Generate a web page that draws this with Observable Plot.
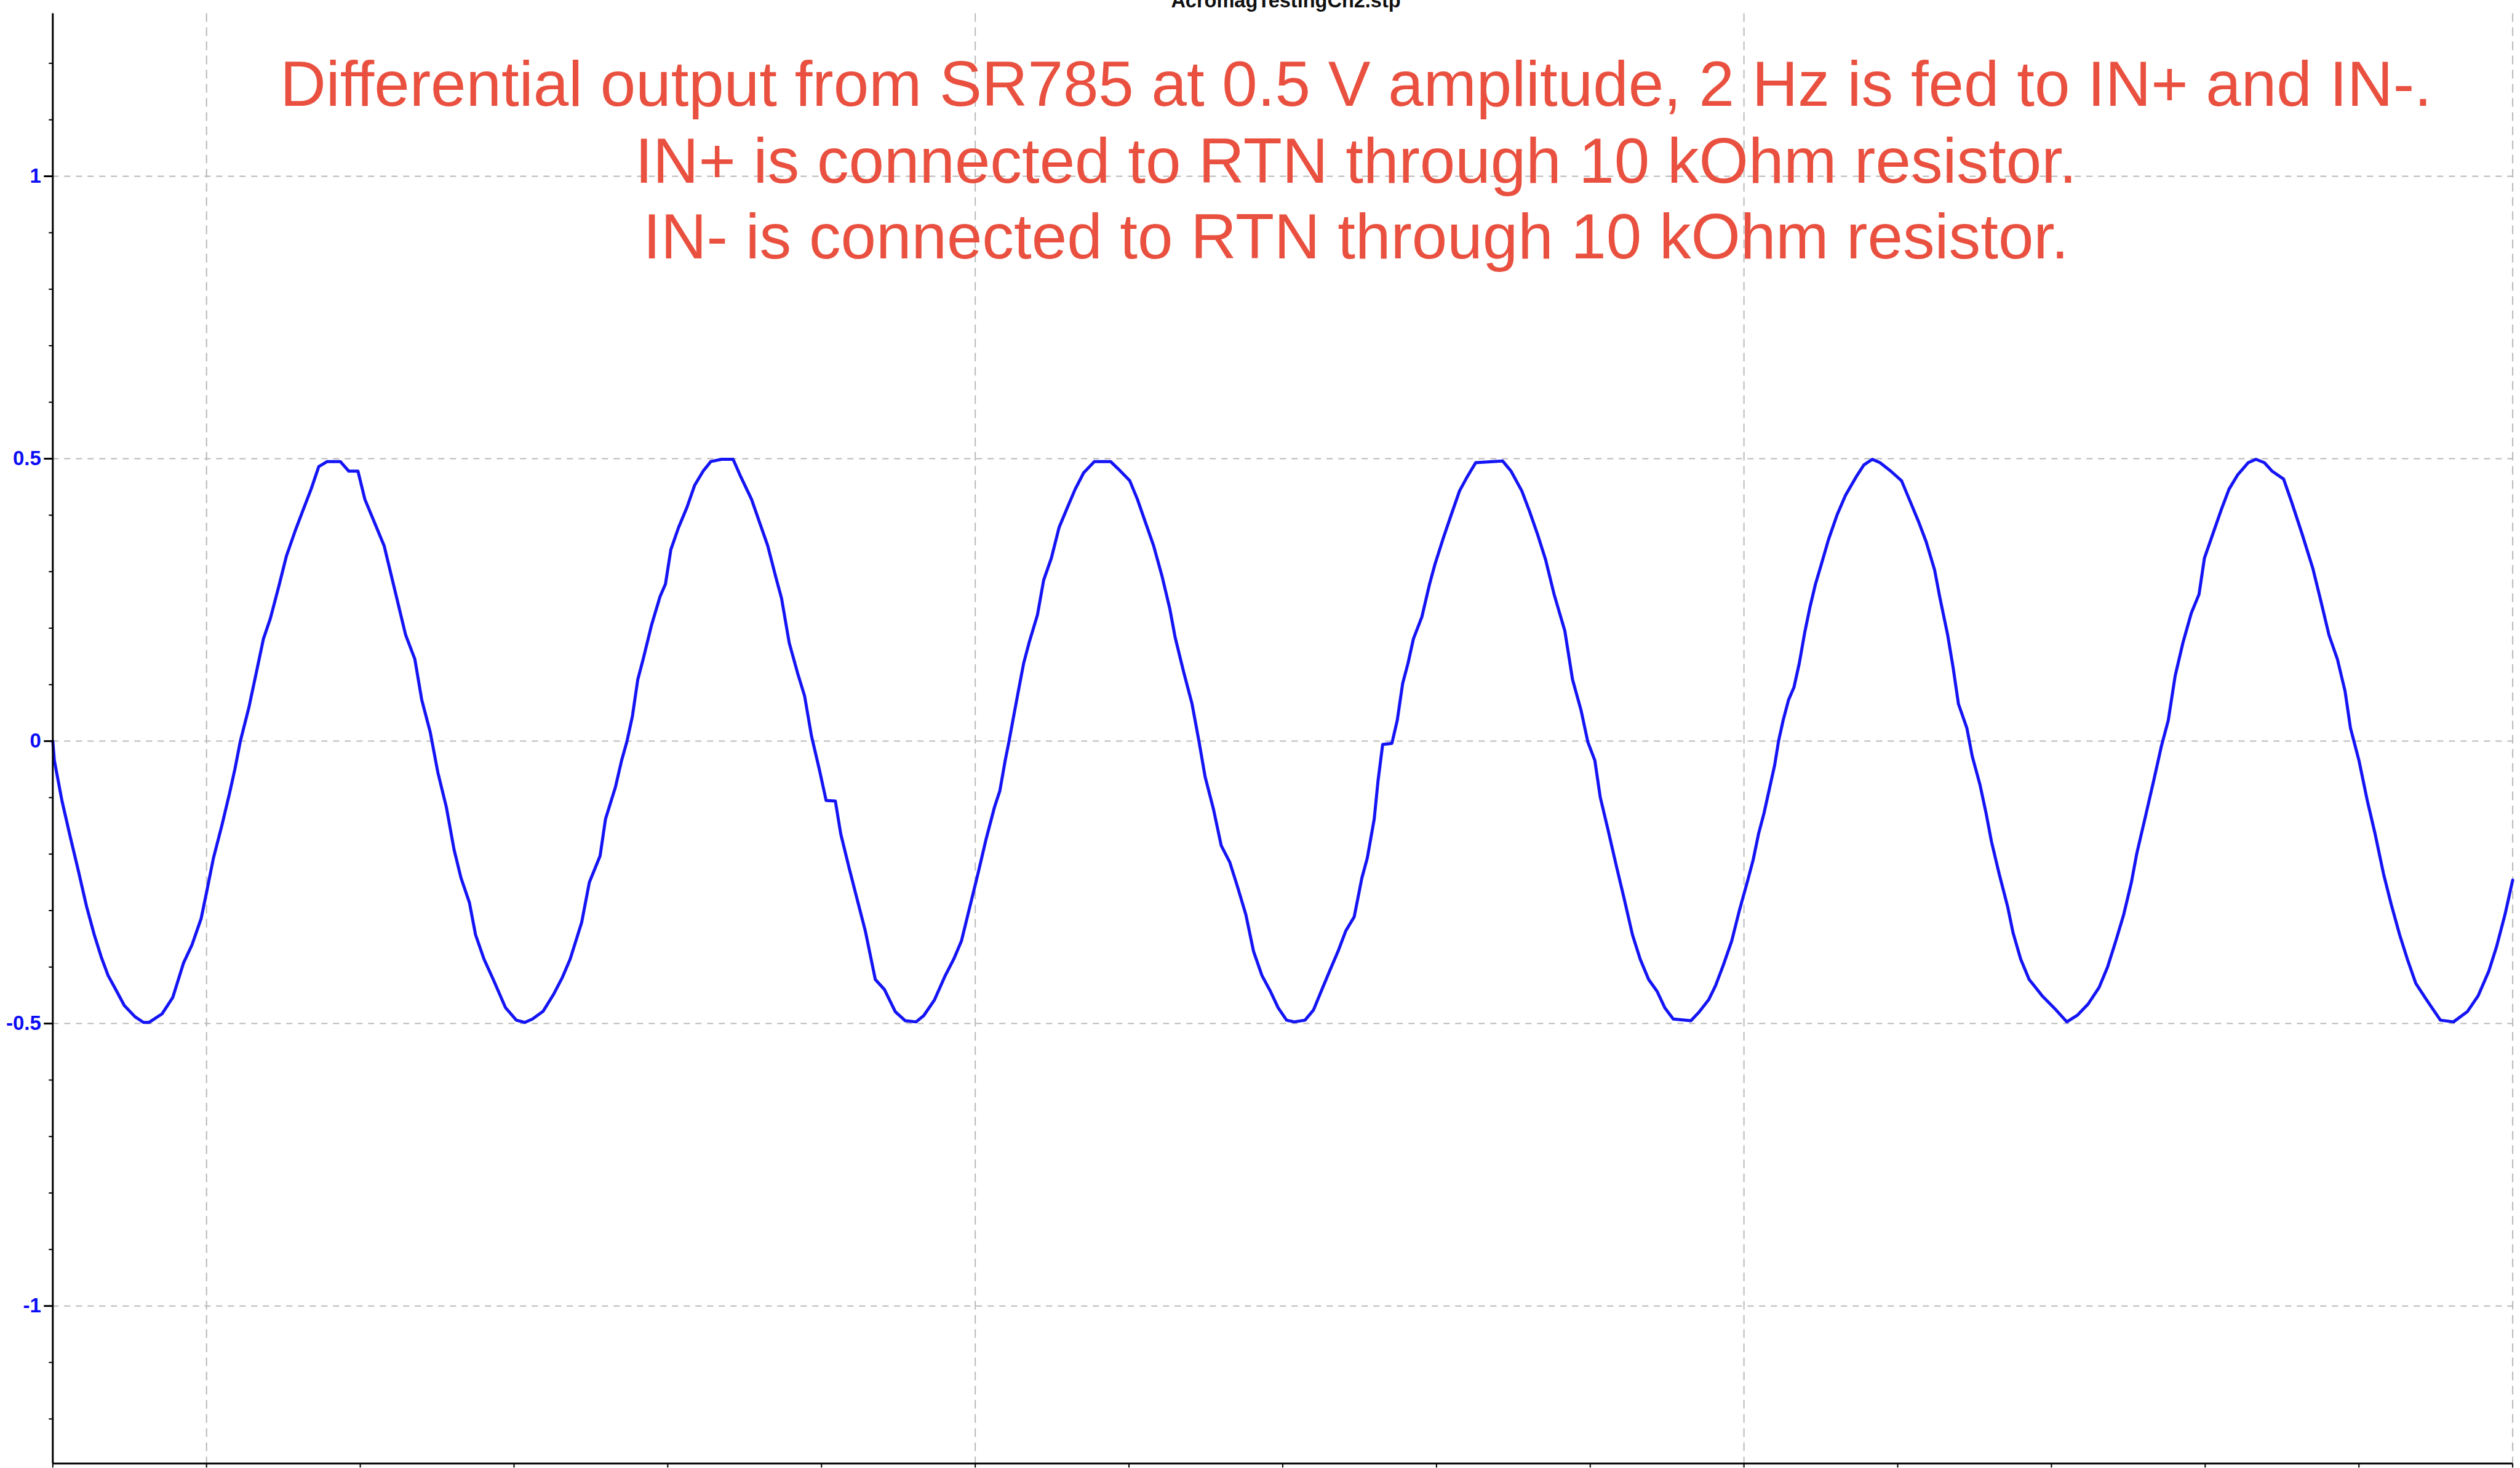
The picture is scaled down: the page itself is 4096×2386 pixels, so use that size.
<!DOCTYPE html>
<html>
<head>
<meta charset="utf-8">
<script src="https://cdn.jsdelivr.net/npm/d3@7"></script>
<script src="https://cdn.jsdelivr.net/npm/@observablehq/plot@0.6"></script>
<style>
  html, body { margin: 0; padding: 0; background: #ffffff; }
  #wrap { position: relative; width: 4096px; height: 2386px; overflow: hidden; background: #ffffff; }
  #chart { position: absolute; left: 0; top: 0; }
  #overlay { position: absolute; left: 0; top: 0; pointer-events: none; }
</style>
</head>
<body>
<div id="wrap">
  <div id="chart"></div>
  <svg id="overlay" width="4096" height="2386"></svg>
</div>
<script>
// ---- Data (time in s, amplitude in V) ----
const cycle0 = [[0,0],[0.002,-0.034],[0.012,-0.106],[0.023,-0.171],[0.033,-0.228],[0.044,-0.293],[0.054,-0.343],[0.063,-0.382],[0.072,-0.415],[0.082,-0.440],[0.093,-0.468],[0.107,-0.488],[0.118,-0.498],[0.125,-0.498],[0.142,-0.483],[0.156,-0.454],[0.170,-0.393],[0.181,-0.361],[0.193,-0.314],[0.200,-0.268],[0.209,-0.207],[0.220,-0.149],[0.230,-0.092],[0.237,-0.049],[0.244,0],[0.255,0.059],[0.265,0.123],[0.274,0.181],[0.283,0.217],[0.294,0.274],[0.304,0.328],[0.315,0.371],[0.325,0.407],[0.336,0.446],[0.346,0.486],[0.357,0.495],[0.374,0.495]];
const cycle1 = [[0.385,0.478],[0.397,0.478],[0.406,0.428],[0.417,0.392],[0.431,0.346],[0.445,0.267],[0.459,0.188],[0.471,0.145],[0.480,0.073],[0.491,0.016],[0.501,-0.056],[0.512,-0.117],[0.522,-0.192],[0.531,-0.242],[0.542,-0.286],[0.550,-0.343],[0.561,-0.386],[0.573,-0.422],[0.589,-0.472],[0.603,-0.494],[0.614,-0.498],[0.624,-0.492],[0.638,-0.478],[0.652,-0.447],[0.663,-0.418],[0.673,-0.386],[0.688,-0.321],[0.698,-0.250],[0.712,-0.203],[0.719,-0.138],[0.732,-0.081],[0.740,-0.034],[0.747,0],[0.754,0.044],[0.761,0.109],[0.768,0.145],[0.779,0.206],[0.790,0.256],[0.797,0.278],[0.804,0.339],[0.814,0.378],[0.825,0.414],[0.835,0.453],[0.846,0.478],[0.856,0.495],[0.870,0.499],[0.885,0.499]];
const cycle2 = [[0.895,0.468],[0.909,0.428],[0.920,0.385],[0.930,0.346],[0.941,0.288],[0.948,0.253],[0.958,0.174],[0.969,0.120],[0.978,0.080],[0.987,0.009],[0.997,-0.049],[1.006,-0.105],[1.018,-0.106],[1.025,-0.164],[1.036,-0.225],[1.046,-0.278],[1.057,-0.336],[1.070,-0.422],[1.082,-0.440],[1.096,-0.479],[1.109,-0.495],[1.123,-0.497],[1.133,-0.486],[1.147,-0.458],[1.161,-0.415],[1.172,-0.386],[1.182,-0.354],[1.193,-0.293],[1.204,-0.232],[1.214,-0.174],[1.225,-0.117],[1.232,-0.088],[1.239,-0.034],[1.244,0],[1.249,0.037],[1.256,0.088],[1.263,0.138],[1.270,0.174],[1.281,0.224],[1.289,0.285],[1.299,0.324],[1.309,0.378],[1.320,0.414],[1.330,0.446],[1.341,0.475],[1.355,0.495],[1.376,0.495]];
const cycle3 = [[1.386,0.482],[1.401,0.461],[1.411,0.428],[1.422,0.385],[1.432,0.346],[1.443,0.292],[1.453,0.235],[1.460,0.184],[1.471,0.123],[1.482,0.066],[1.491,0],[1.499,-0.063],[1.510,-0.121],[1.520,-0.185],[1.531,-0.214],[1.541,-0.257],[1.552,-0.307],[1.562,-0.372],[1.573,-0.415],[1.584,-0.443],[1.594,-0.472],[1.605,-0.494],[1.615,-0.497],[1.629,-0.494],[1.640,-0.476],[1.650,-0.443],[1.661,-0.407],[1.672,-0.372],[1.682,-0.336],[1.693,-0.311],[1.703,-0.242],[1.710,-0.207],[1.719,-0.138],[1.724,-0.070],[1.730,-0.006],[1.742,-0.004],[1.749,0.037],[1.756,0.102],[1.763,0.138],[1.770,0.181],[1.781,0.220],[1.791,0.278],[1.798,0.313],[1.809,0.360],[1.819,0.400],[1.830,0.443],[1.840,0.468],[1.851,0.493],[1.886,0.496]];
const cycle4 = [[1.897,0.478],[1.911,0.443],[1.921,0.407],[1.932,0.364],[1.942,0.321],[1.953,0.260],[1.967,0.195],[1.977,0.109],[1.988,0.055],[1.997,-0.002],[2.006,-0.034],[2.013,-0.099],[2.023,-0.156],[2.034,-0.221],[2.044,-0.278],[2.055,-0.343],[2.065,-0.386],[2.076,-0.422],[2.087,-0.443],[2.097,-0.472],[2.108,-0.492],[2.131,-0.495],[2.142,-0.479],[2.154,-0.458],[2.163,-0.433],[2.173,-0.397],[2.184,-0.354],[2.194,-0.300],[2.205,-0.246],[2.212,-0.210],[2.219,-0.164],[2.226,-0.128],[2.233,-0.085],[2.240,-0.042],[2.245,0],[2.251,0.037],[2.258,0.073],[2.265,0.095],[2.272,0.138],[2.279,0.192],[2.286,0.238],[2.293,0.278],[2.300,0.310],[2.310,0.357],[2.321,0.400],[2.332,0.435],[2.346,0.468],[2.356,0.489],[2.367,0.499]];
const cycle5 = [[2.377,0.493],[2.391,0.478],[2.405,0.461],[2.416,0.425],[2.427,0.389],[2.437,0.353],[2.448,0.303],[2.455,0.253],[2.465,0.188],[2.472,0.131],[2.479,0.066],[2.490,0.023],[2.497,-0.027],[2.507,-0.077],[2.515,-0.128],[2.522,-0.178],[2.532,-0.235],[2.543,-0.293],[2.550,-0.339],[2.560,-0.386],[2.571,-0.422],[2.588,-0.451],[2.606,-0.476],[2.620,-0.497],[2.634,-0.485],[2.648,-0.465],[2.662,-0.436],[2.673,-0.400],[2.683,-0.357],[2.694,-0.307],[2.704,-0.250],[2.711,-0.199],[2.722,-0.135],[2.733,-0.070],[2.743,-0.009],[2.752,0.037],[2.761,0.116],[2.771,0.174],[2.782,0.227],[2.792,0.260],[2.799,0.324],[2.810,0.367],[2.821,0.410],[2.831,0.446],[2.842,0.471],[2.856,0.493],[2.866,0.499]];
const cycle6 = [[2.877,0.493],[2.887,0.478],[2.902,0.464],[2.912,0.425],[2.926,0.367],[2.940,0.306],[2.951,0.245],[2.961,0.188],[2.972,0.145],[2.982,0.088],[2.989,0.023],[3.000,-0.034],[3.011,-0.106],[3.021,-0.164],[3.032,-0.235],[3.042,-0.289],[3.053,-0.343],[3.063,-0.386],[3.074,-0.429],[3.088,-0.458],[3.106,-0.494],[3.123,-0.497],[3.141,-0.479],[3.155,-0.451],[3.169,-0.407],[3.179,-0.364],[3.190,-0.307],[3.200,-0.246]];

const xDomain = [0, 3.2];
const yDomain = [-1.279, 1.288];
const yMajorTicks = [-1, -0.5, 0, 0.5, 1];
const yMinorTicks = [-1.2, -1.1, -0.9, -0.8, -0.7, -0.6, -0.4, -0.3, -0.2, -0.1, 0.1, 0.2, 0.3, 0.4, 0.6, 0.7, 0.8, 0.9, 1.1, 1.2];
const xTicks = [0, 0.2, 0.4, 0.6, 0.8, 1.0, 1.2, 1.4, 1.6, 1.8, 2.0, 2.2, 2.4, 2.6, 2.8, 3.0, 3.2];
const xGridLines = [0.2, 1.2, 2.2, 3.2];

const titleText = "AcromagTestingCh2.stp";
const noteLines = [
  "Differential output from SR785 at 0.5 V amplitude, 2 Hz is fed to IN+ and IN-.",
  "IN+ is connected to RTN through 10 kOhm resistor.",
  "IN- is connected to RTN through 10 kOhm resistor."
];

const trace = [...cycle0, ...cycle1, ...cycle2, ...cycle3, ...cycle4, ...cycle5, ...cycle6]
  .map(([t, v]) => ({t, v}));

const BLUE = "#1414f5";
const GRID = "#b9b9b9";
const FONT = "'Liberation Sans', Arial, Helvetica, sans-serif";

const chart = Plot.plot({
  width: 4096,
  height: 2386,
  marginLeft: 85.3,
  marginRight: 12.4,
  marginTop: 21.6,
  marginBottom: 7.7,
  style: {fontFamily: FONT, background: "#ffffff", color: "black"},
  x: {domain: xDomain, label: null},
  y: {domain: yDomain, label: null},
  marks: [
    Plot.ruleY(yMajorTicks, {stroke: GRID, strokeWidth: 2, strokeDasharray: "10,9"}),
    Plot.ruleX(xGridLines, {stroke: GRID, strokeWidth: 2, strokeDasharray: "14,9"}),
    Plot.line(trace, {x: "t", y: "v", stroke: BLUE, strokeWidth: 5, strokeLinejoin: "round"}),
    Plot.ruleX([xDomain[0]], {stroke: "black", strokeWidth: 3}),
    Plot.ruleY([yDomain[0]], {stroke: "black", strokeWidth: 3}),
    Plot.axisY({ticks: yMinorTicks, tickSize: 6, tickFormat: () => "", label: null, stroke: "black", strokeWidth: 2}),
    Plot.axisY({
      ticks: yMajorTicks, tickSize: 14, tickPadding: 5,
      tickFormat: d => String(d), label: null,
      stroke: "black", strokeWidth: 3, fill: "#0c0cf5",
      fontSize: 33, fontWeight: "bold", fontFamily: FONT
    }),
    Plot.axisX({ticks: xTicks, tickSize: 7, tickFormat: () => "", label: null, stroke: "black", strokeWidth: 2})
  ]
});
document.getElementById("chart").appendChild(chart);

// Title (clipped at the top edge as in the source) and red annotation, as real text
const overlay = d3.select("#overlay");
overlay.append("text")
  .attr("x", 2090).attr("y", 11.8)
  .attr("text-anchor", "middle")
  .attr("font-family", FONT).attr("font-weight", "bold").attr("font-size", 32.5)
  .attr("fill", "#111111")
  .text(titleText);

const noteBaselines = [172.2, 297.2, 420.2];
noteLines.forEach((line, i) => {
  overlay.append("text")
    .attr("x", 2204).attr("y", noteBaselines[i])
    .attr("text-anchor", "middle")
    .attr("font-family", FONT).attr("font-size", 103.3)
    .attr("fill", "#e9503f")
    .text(line);
});
</script>
</body>
</html>
